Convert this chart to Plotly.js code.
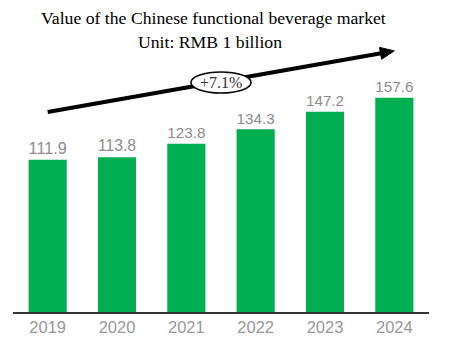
<!DOCTYPE html>
<html>
<head>
<meta charset="utf-8">
<script src="https://cdn.plot.ly/plotly-3.0.1.min.js"></script>
<style>html,body{margin:0;padding:0;background:#fff;}#chart{width:451px;height:355px;}</style>
</head>
<body>
<div id="chart"></div>
<script>
const years = ["2019", "2020", "2021", "2022", "2023", "2024"];
const values = [111.9, 113.8, 123.8, 134.3, 147.2, 157.6];
const labels = ["111.9", "113.8", "123.8", "134.3", "147.2", "157.6"];
const titleLine1 = "Value of the Chinese functional beverage market";
const titleLine2 = "Unit: RMB 1 billion";
const growthLabel = "+7.1%";

const xIdx = years.map((_, i) => i);

const sans = "Liberation Sans, Arial, sans-serif";
const serif = "Liberation Serif, Times New Roman, serif";

const trace = {
  type: "bar",
  x: xIdx,
  y: values,
  text: labels,
  textposition: "outside",
  cliponaxis: false,
  textfont: {family: sans, size: 16.5, color: "#8c8c8c"},
  marker: {color: "#00B050"},
  hoverinfo: "skip"
};

const layout = {
  width: 451,
  height: 355,
  margin: {l: 13, r: 22, t: 40, b: 43},
  paper_bgcolor: "#ffffff",
  plot_bgcolor: "#ffffff",
  showlegend: false,
  bargap: 0.45,
  xaxis: {
    range: [-0.5, 5.5],
    tickvals: xIdx,
    ticktext: years,
    showgrid: false,
    zeroline: false,
    showline: true,
    linecolor: "#333333",
    linewidth: 1.5,
    ticks: "",
    tickfont: {family: sans, size: 16.5, color: "#999999"}
  },
  yaxis: {range: [0, 200], visible: false, fixedrange: true},
  shapes: [
    {type: "line", xref: "x", yref: "y", x0: 0, y0: 147, x1: 4.81, y1: 190.3,
     line: {color: "#000000", width: 4}, layer: "above"},
    {type: "path", xref: "x", yref: "y",
     path: "M 5 192 L 4.816 185.87 L 4.786 194.56 Z",
     fillcolor: "#000000", line: {color: "#000000", width: 1}, layer: "above"},
    {type: "circle", xref: "x", yref: "y", x0: 2.066, x1: 2.934, y0: 161, y1: 176.5,
     fillcolor: "#ffffff", line: {color: "#000000", width: 1.5}, layer: "above"}
  ],
  annotations: [
    {xref: "paper", yref: "paper", x: 0.482, y: 1.0810, xanchor: "center", yanchor: "middle",
     text: titleLine1, showarrow: false, font: {family: serif, size: 17.7, color: "#000000"}},
    {xref: "paper", yref: "paper", x: 0.474, y: 0.9910, xanchor: "center", yanchor: "middle",
     text: titleLine2, showarrow: false, font: {family: serif, size: 17.7, color: "#000000"}},
    {xref: "x", yref: "y", x: 2.5, y: 168.75, xanchor: "center", yanchor: "middle",
     text: growthLabel, showarrow: false, font: {family: serif, size: 16, color: "#333333"}}
  ]
};

Plotly.newPlot("chart", [trace], layout, {displayModeBar: false, staticPlot: true});
</script>
</body>
</html>
